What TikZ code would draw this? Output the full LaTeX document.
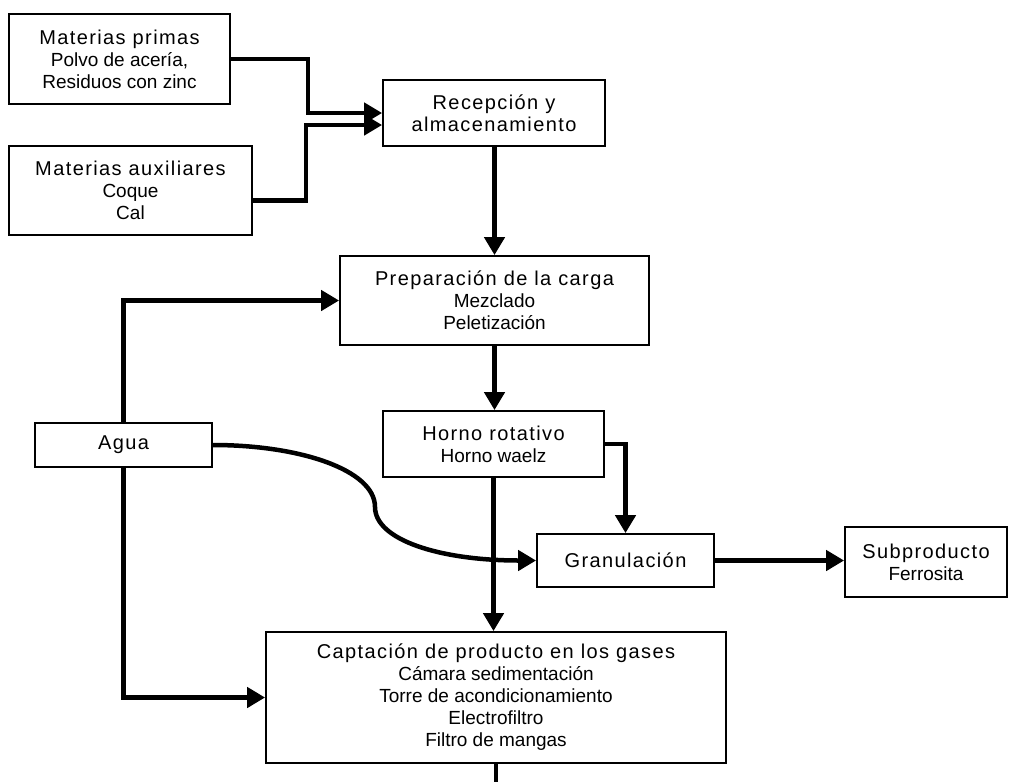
\documentclass[tikz,border=0pt]{standalone}
\usepackage{fontspec}
\setmainfont{Liberation Sans}
\usetikzlibrary{arrows.meta,calc}
% heading line of a box: slightly larger and letter-spaced
\newcommand\hd[1]{{\fontsize{20}{22}\selectfont\addfontfeature{LetterSpace=7}#1}}
\begin{document}
\begin{tikzpicture}[x=1pt,y=-1pt,
  box/.style={draw, line width=1.8pt, inner sep=0pt, align=center,
    font=\fontsize{19}{22}\selectfont},
  flow/.style={line width=4.5pt, -{Triangle[length=18pt,width=20pt]}},
  feed/.style={line width=4.5pt}]
\useasboundingbox (0,0) rectangle (1009,782);

% process boxes
\node[box, minimum width=221pt, minimum height=90pt] (mp) at (119.5,59)
  {\hd{Materias primas}\\Polvo de acería,\\Residuos con zinc};
\node[box, minimum width=243pt, minimum height=89pt] (ma) at (130.5,190.5)
  {\hd{Materias auxiliares}\\Coque\\Cal};
\node[box, minimum width=222pt, minimum height=66pt] (rec) at (494,113)
  {\hd{Recepción y}\\\hd{almacenamiento}};
\node[box, minimum width=309pt, minimum height=89pt] (prep) at (494.5,300.5)
  {\hd{Preparación de la carga}\\Mezclado\\Peletización};
\node[box, minimum width=221pt, minimum height=66pt] (horno) at (493.5,444)
  {\hd{Horno rotativo}\\Horno waelz};
\node[box, minimum width=177pt, minimum height=44pt] (agua) at (123.5,445)
  {\hd{Agua}};
\node[box, minimum width=177pt, minimum height=53pt] (gran) at (625.5,560.5)
  {\hd{Granulación}};
\node[box, minimum width=162pt, minimum height=70pt] (sub) at (926,562)
  {\hd{Subproducto}\\Ferrosita};
\node[box, minimum width=460pt, minimum height=131pt] (cap) at (496,697.5)
  {\hd{Captación de producto en los gases}\\Cámara sedimentación\\
   Torre de acondicionamiento\\Electrofiltro\\Filtro de mangas};

\coordinate (out) at (496,782);

% raw material feeds
\draw[flow] (mp.east) -- ++(77,0) |- (rec.west);
\draw[flow] ($(ma.east)+(0,10)$) -| ($(rec.west)+(-76,12)$) -- ($(rec.west)+(0,12)$);

% main line
\draw[flow] (prep.north |- rec.south) -- (prep.north);
\draw[flow] (prep.south) -- (prep.south |- horno.north);
\draw[flow] (horno.south) -- (horno.south |- cap.north);
\draw[flow] (horno.east) -| (gran.north);
\draw[flow] (gran.east) -- (gran.east -| sub.west);
\draw[feed] (cap.south) -- (out);

% water
\draw[flow] (agua.north) |- (prep.west);
\draw[flow] (agua.south) |- (cap.west);
\draw[flow] (agua.east) .. controls (300,445) and (375,470) .. (375,507)
  .. controls (375,540) and (440,560.5) .. (gran.west);
\end{tikzpicture}
\end{document}
